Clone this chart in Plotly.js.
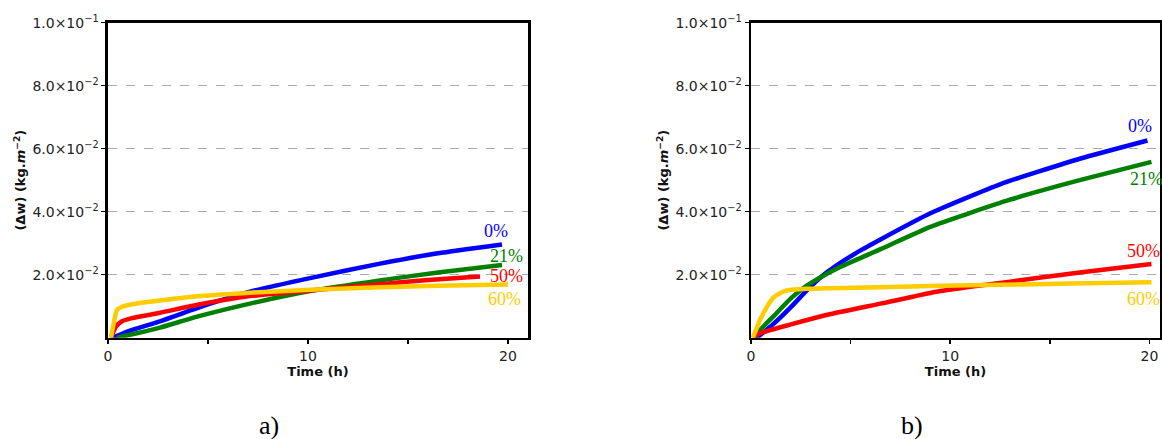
<!DOCTYPE html>
<html>
<head>
<meta charset="utf-8">
<script src="https://cdn.plot.ly/plotly-3.0.1.min.js"></script>
<style>html,body{margin:0;padding:0;background:#fff;}#chart{width:1162px;height:439px;}</style>
</head>
<body>
<div id="chart"></div>
<script>
// ---- Panel a) data ----
const aBlueX  = [0.25, 1, 2.6, 4.6, 7.1, 10.1, 13.6, 16.5, 19.7];
const aBlueY  = [0, 0.0020, 0.0052, 0.0097, 0.0146, 0.0189, 0.0235, 0.0268, 0.0296];
const aGreenX = [0.45, 1.5, 2.6, 4.6, 7.1, 10.1, 13.6, 16.5, 19.7];
const aGreenY = [0, 0.0015, 0.0032, 0.0069, 0.0108, 0.0148, 0.0182, 0.0207, 0.0231];
const aRedX   = [0.15, 0.4, 0.7, 1.2, 2.6, 4.6, 7.1, 10.1, 13.6, 16.0, 18.6];
const aRedY   = [0, 0.0035, 0.0052, 0.0062, 0.0079, 0.0106, 0.0132, 0.0150, 0.0170, 0.0183, 0.0194];
const aYelX   = [0.15, 0.3, 0.45, 0.7, 1.2, 2.6, 4.6, 7.1, 10.1, 13.6, 16.5, 20.0];
const aYelY   = [0, 0.0050, 0.0088, 0.0098, 0.0106, 0.0118, 0.0132, 0.0143, 0.0152, 0.0160, 0.0165, 0.0169];

// ---- Panel b) data ----
const bBlueX  = [0.3, 1.1, 2.0, 2.8, 3.5, 4.5, 5.5, 6.5, 9.0, 12.5, 16.5, 19.9];
const bBlueY  = [0, 0.0042, 0.0097, 0.0150, 0.0192, 0.0238, 0.0277, 0.0312, 0.0395, 0.0487, 0.0568, 0.0626];
const bGreenX = [0.2, 0.45, 1.1, 2.0, 2.8, 3.5, 4.5, 6.5, 9.0, 13.0, 16.5, 20.1];
const bGreenY = [0, 0.0024, 0.0066, 0.0125, 0.0165, 0.0192, 0.0225, 0.0281, 0.0352, 0.0438, 0.0500, 0.0558];
const bRedX   = [0.1, 0.45, 2.0, 4.0, 6.5, 9.5, 13.0, 16.5, 20.1];
const bRedY   = [0, 0.0014, 0.0042, 0.0075, 0.0108, 0.0148, 0.0178, 0.0207, 0.0234];
const bYelX   = [0.1, 0.45, 0.79, 1.12, 1.5, 1.8, 2.8, 4.0, 6.5, 9.5, 12.5, 16.0, 20.1];
const bYelY   = [0, 0.0056, 0.0097, 0.0127, 0.0143, 0.0150, 0.0155, 0.0157, 0.0160, 0.0165, 0.0168, 0.0172, 0.0176];

// ---- Labels / ticks ----
const seriesNames  = ['0%', '21%', '50%', '60%'];
const seriesColors = ['#0000ff', '#008000', '#ff0000', '#ffcc00'];
const xTickVals = [0, 10, 20];
const xTickText = ['0', '10', '20'];
const xMinorVals = [5, 15];
const yTickVals = [0.02, 0.04, 0.06, 0.08, 0.1];
const yTickText = ['2.0×10<sup>−2</sup>', '4.0×10<sup>−2</sup>', '6.0×10<sup>−2</sup>', '8.0×10<sup>−2</sup>', '1.0×10<sup>−1</sup>'];
// label anchor positions (data coords) for each panel
const aLabelX = [19.4, 19.9, 19.9, 19.8];
const aLabelY = [0.0338, 0.0260, 0.0197, 0.0124];
const bLabelX = [19.5, 19.85, 19.7, 19.7];
const bLabelY = [0.0673, 0.0505, 0.0275, 0.0124];
const panelTags = ['a)', 'b)'];

const LW = 4.5;
function tr(x, y, i, xa, ya) {
  return {x: x, y: y, xaxis: xa, yaxis: ya, mode: 'lines', name: seriesNames[i],
    line: {color: seriesColors[i], width: LW, shape: 'spline', smoothing: 0.5}, showlegend: false, hoverinfo: 'skip'};
}
const data = [
  tr(aBlueX, aBlueY, 0, 'x', 'y'), tr(aGreenX, aGreenY, 1, 'x', 'y'),
  tr(aRedX, aRedY, 2, 'x', 'y'), tr(aYelX, aYelY, 3, 'x', 'y'),
  tr(bBlueX, bBlueY, 0, 'x2', 'y2'), tr(bGreenX, bGreenY, 1, 'x2', 'y2'),
  tr(bRedX, bRedY, 2, 'x2', 'y2'), tr(bYelX, bYelY, 3, 'x2', 'y2')
];

const tickFont = {family: 'DejaVu Sans', size: 14, color: '#222'};
const titleFont = {family: 'DejaVu Sans', size: 13, color: '#111'};
function xax(domain, range) {
  return {domain: domain, range: range, tickmode: 'array', tickvals: xTickVals, ticktext: xTickText,
    ticks: 'outside', ticklen: 4, tickwidth: 1.5, tickcolor: '#000',
    minor: {tickmode: 'array', tickvals: xMinorVals, ticks: 'outside', ticklen: 4, tickwidth: 1.5, tickcolor: '#000', showgrid: false},
    showline: true, mirror: true,
    linewidth: 2.5, linecolor: '#000', showgrid: false, zeroline: false, tickfont: tickFont,
    title: {text: '<b>Time (h)</b>', font: titleFont, standoff: 2}, fixedrange: true};
}
function yax(domain, anchor) {
  return {domain: domain, range: [0, 0.1], anchor: anchor, tickmode: 'array', tickvals: yTickVals, ticktext: yTickText,
    ticks: 'outside', ticklen: 4, tickwidth: 1.5, tickcolor: '#000', showline: true, mirror: true,
    linewidth: 2.5, linecolor: '#000', showgrid: true, gridcolor: '#aaaaaa', gridwidth: 1, griddash: 'dash',
    zeroline: false, tickfont: tickFont,
    title: {text: '<b>(Δw) (kg.<i>m</i><sup>−2</sup>)</b>', font: titleFont, standoff: 4}, fixedrange: true};
}

const annotations = [];
for (let i = 0; i < 4; i++) {
  annotations.push({x: aLabelX[i], y: aLabelY[i], xref: 'x', yref: 'y', text: seriesNames[i], showarrow: false,
    xanchor: 'center', yanchor: 'middle',
    font: {family: 'Liberation Serif', size: 18, color: seriesColors[i]}});
  annotations.push({x: bLabelX[i], y: bLabelY[i], xref: 'x2', yref: 'y2', text: seriesNames[i], showarrow: false,
    xanchor: 'center', yanchor: 'middle',
    font: {family: 'Liberation Serif', size: 18, color: seriesColors[i]}});
}
annotations.push({x: 0.2315, y: 0.030, xref: 'paper', yref: 'paper', text: panelTags[0], showarrow: false,
  xanchor: 'center', yanchor: 'middle', font: {family: 'Liberation Serif', size: 26, color: '#000'}});
annotations.push({x: 0.785, y: 0.030, xref: 'paper', yref: 'paper', text: panelTags[1], showarrow: false,
  xanchor: 'center', yanchor: 'middle', font: {family: 'Liberation Serif', size: 26, color: '#000'}});

const layout = {
  width: 1162, height: 439, margin: {l: 0, r: 0, t: 0, b: 0, pad: 0},
  paper_bgcolor: '#fff', plot_bgcolor: '#fff',
  xaxis: xax([0.0929, 0.4544], [0, 21]),
  yaxis: yax([0.2308, 0.9483], 'x'),
  xaxis2: Object.assign(xax([0.6463, 0.9983], [0, 20.53]), {anchor: 'y2'}),
  yaxis2: yax([0.2308, 0.9483], 'x2'),
  annotations: annotations
};
layout.xaxis.anchor = 'y';
Plotly.newPlot('chart', data, layout, {staticPlot: true, displayModeBar: false});
</script>
</body>
</html>
